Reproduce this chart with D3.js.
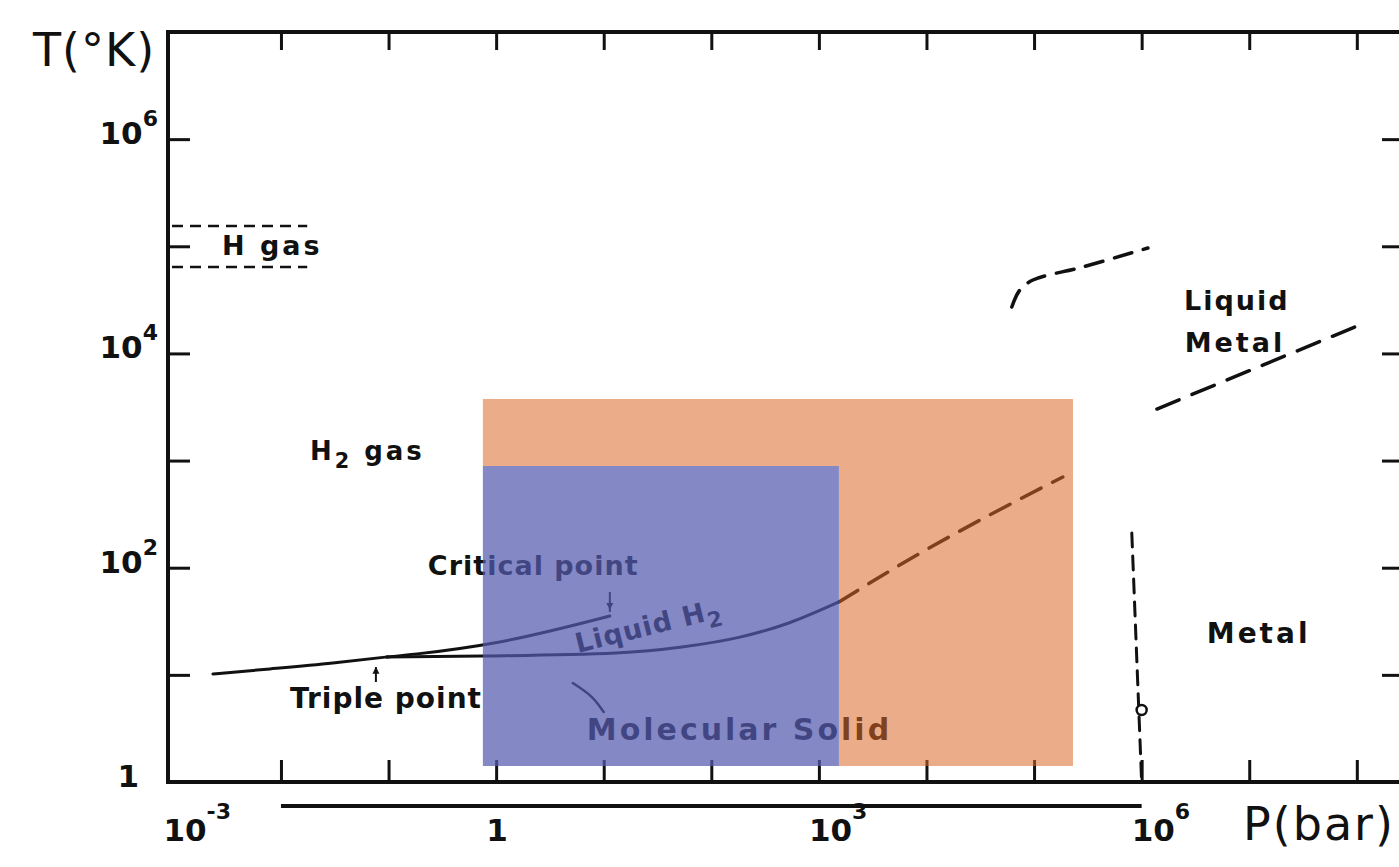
<!DOCTYPE html>
<html>
<head>
<meta charset="utf-8">
<script src="https://cdn.jsdelivr.net/npm/d3@7"></script>
<style>
    body { margin: 0; background: #fff; }
    svg { display: block; font-family: "DejaVu Sans", sans-serif; }
    .lbl { font-weight: bold; fill: #111; }
</style>
</head>
<body>
<div id="chart"></div>
<script>
// axis ticks (decades) and labels
const xTicks = [1e-2, 1e-1, 1, 1e1, 1e2, 1e3, 1e4, 1e5, 1e6, 1e7, 1e8];
const yTicks = [1e1, 1e2, 1e3, 1e4, 1e5, 1e6];
const xTickLabels = [
    {v: 1e-3, base: "10", exp: "-3"},
    {v: 1, base: "1", exp: ""},
    {v: 1e3, base: "10", exp: "3"},
    {v: 1e6, base: "10", exp: "6"}
];
const yTickLabels = [
    {v: 1, base: "1", exp: ""},
    {v: 1e2, base: "10", exp: "2"},
    {v: 1e4, base: "10", exp: "4"},
    {v: 1e6, base: "10", exp: "6"}
];

// phase boundaries, [P (bar), T (K)]
const sublimation = [[0.00233, 10.2], [0.0079, 11.35], [0.0304, 12.9], [0.0966, 14.7]];
const vaporization = [[0.0966, 14.7], [0.1845, 15.7], [1.08, 20.3], [11.4, 35.4]];
const melting = [[0.0966, 14.7], [0.753, 15.0], [12.97, 16.0], [53.3, 18.2], [184.5, 22.5], [526, 30.5], [1535, 47.9]];
const meltingExtrap = [[1535, 47.9], [6295, 113], [185000, 703]];
const upperDashed = [[62100, 27100], [73800, 39100], [97500, 48400], [283800, 64100], [1.143e6, 96400]];
const liquidMetalLine = [[1.387e6, 3027], [9.59e7, 17660]];
const metalBoundary = [[8.1e5, 211], [1e6, 1]];
const metalPoint = [1e6, 4.7];
const hGasBounds = [154500, 64100];
const hGasPmax = 0.01754;
const solidLeader = [[5.16, 8.39], [7.76, 6.21], [10.0, 4.5]];
const criticalArrow = [[11.4, 59.3], [11.4, 38.6]];
const tripleArrow = [[0.0763, 8.58], [0.0763, 11.8]];
const pressureBar = [1e-2, 1e6];

// highlighted ranges [P0, P1, T0, T1]
const orangeBox = [0.753, 2.3e5, 1.41, 3760];
const blueBox = [0.753, 1535, 1.41, 890];

// region labels, anchored at [P, T] (left, baseline)
const labels = [
    {text: "H gas", p: 0.00283, t: 83000, size: 27, spacing: 3},
    {text: "H", sub: "2", after: " gas", p: 0.01858, t: 1012, size: 26, spacing: 3},
    {text: "Critical point", p: 0.232, t: 85.5, size: 27, spacing: 1},
    {text: "Triple point", p: 0.01213, t: 4.91, size: 28, spacing: 1},
    {text: "Liquid H", sub: "2", after: "", p: 5.75, t: 16.0, size: 27, spacing: 1, rotate: -14},
    {text: "Molecular Solid", p: 6.97, t: 2.47, size: 30, spacing: 3},
    {text: "Liquid", p: 2.48e6, t: 25400, size: 27, spacing: 2},
    {text: "Metal", p: 2.51e6, t: 10300, size: 27, spacing: 3},
    {text: "Metal", p: 4.03e6, t: 19.8, size: 28, spacing: 3}
];

const width = 1399, height = 867;

const x = d3.scaleLog().domain([Math.pow(10, -3.05), Math.pow(10, 8.42)]).range([168, 1402]);
const y = d3.scaleLog().domain([1, 1e7]).range([782, 32]);

const svg = d3.select("#chart").append("svg")
    .attr("width", width)
    .attr("height", height);

const ink = "#111";

// frame
const [x0, x1] = x.range();
const [yb, yt] = y.range();
svg.append("rect")
    .attr("x", x0).attr("y", yt)
    .attr("width", x1 - x0).attr("height", yb - yt)
    .attr("fill", "none").attr("stroke", ink).attr("stroke-width", 4);

// ticks pointing inward on all four sides
function ticks(g, axis) {
    g.call(axis);
    g.select(".domain").remove();
    g.selectAll(".tick line").attr("stroke", ink).attr("stroke-width", 3);
}
svg.append("g").attr("transform", "translate(0," + yb + ")")
    .call(ticks, d3.axisBottom(x).tickValues(xTicks).tickSize(-22).tickFormat(""));
svg.append("g").attr("transform", "translate(0," + yt + ")")
    .call(ticks, d3.axisTop(x).tickValues(xTicks).tickSize(-18).tickFormat(""));
svg.append("g").attr("transform", "translate(" + x0 + ",0)")
    .call(ticks, d3.axisLeft(y).tickValues(yTicks).tickSize(-22).tickFormat(""));
svg.append("g").attr("transform", "translate(" + x1 + ",0)")
    .call(ticks, d3.axisRight(y).tickValues(yTicks).tickSize(-20).tickFormat(""));

// tick labels with superscripts
function powerLabel(sel, d, supDy) {
    sel.append("tspan").text(d.base);
    if (d.exp) {
        sel.append("tspan").attr("dy", supDy).attr("font-size", 22).text(d.exp);
    }
}
xTickLabels.forEach(function(d) {
    const t = svg.append("text")
        .attr("class", "lbl")
        .attr("font-size", 31)
        .attr("x", d.exp ? x(d.v) - 10 : x(d.v) + 1)
        .attr("y", 841)
        .attr("text-anchor", d.exp ? "start" : "middle");
    powerLabel(t, d, -22);
});
yTickLabels.forEach(function(d) {
    const t = svg.append("text")
        .attr("class", "lbl")
        .attr("font-size", 31)
        .attr("x", d.exp ? 158 : 139)
        .attr("y", y(d.v) + 5)
        .attr("text-anchor", "end");
    powerLabel(t, d, -18);
});

// axis titles
svg.append("text").attr("x", 33).attr("y", 66)
    .attr("font-size", 46).attr("fill", ink).attr("letter-spacing", 1)
    .text("T(°K)");
svg.append("text").attr("x", 1243).attr("y", 840)
    .attr("font-size", 46).attr("fill", ink).attr("letter-spacing", 2)
    .text("P(bar)");

// pressure bar under the axis
svg.append("line")
    .attr("x1", x(pressureBar[0])).attr("x2", x(pressureBar[1]))
    .attr("y1", 806).attr("y2", 806)
    .attr("stroke", ink).attr("stroke-width", 4);

const line = d3.line()
    .x(function(d) { return x(d[0]); })
    .y(function(d) { return y(d[1]); })
    .curve(d3.curveMonotoneX);

function curve(data, w, dash, gen) {
    return svg.append("path")
        .datum(data)
        .attr("d", gen || line)
        .attr("fill", "none")
        .attr("stroke", ink)
        .attr("stroke-width", w)
        .attr("stroke-linecap", "round")
        .attr("stroke-dasharray", dash || null);
}

curve(sublimation, 3);
curve(vaporization, 3);
curve(melting, 3);
curve(meltingExtrap, 3.5, "22,13");
curve(upperDashed, 3.5, "18,12", d3.line()
    .x(function(d) { return x(d[0]); })
    .y(function(d) { return y(d[1]); })
    .curve(d3.curveCatmullRom));
curve(liquidMetalLine, 3.5, "24,14");
curve(metalBoundary, 3, "14,9", d3.line()
    .x(function(d) { return x(d[0]); })
    .y(function(d) { return y(d[1]); }));
curve(solidLeader, 2.5, null, d3.line()
    .x(function(d) { return x(d[0]); })
    .y(function(d) { return y(d[1]); })
    .curve(d3.curveCatmullRom));

// H gas band
hGasBounds.forEach(function(t) {
    svg.append("line")
        .attr("x1", x0 + 4).attr("x2", x(hGasPmax))
        .attr("y1", y(t)).attr("y2", y(t))
        .attr("stroke", ink).attr("stroke-width", 2.5)
        .attr("stroke-dasharray", "11,7");
});

// small arrows for critical and triple points
function arrow(pts) {
    const a = [x(pts[0][0]), y(pts[0][1])];
    const b = [x(pts[1][0]), y(pts[1][1])];
    svg.append("line")
        .attr("x1", a[0]).attr("y1", a[1]).attr("x2", b[0]).attr("y2", b[1])
        .attr("stroke", ink).attr("stroke-width", 2);
    const dir = b[1] > a[1] ? 1 : -1;
    const hy = a[1] + (b[1] - a[1]) * 0.55;
    svg.append("path")
        .attr("d", "M" + (b[0] - 3.5) + "," + hy + "L" + (b[0] + 3.5) + "," + hy + "L" + b[0] + "," + (hy + dir * 7) + "Z")
        .attr("fill", ink);
}
arrow(criticalArrow);
arrow(tripleArrow);

// metallization marker
svg.append("circle")
    .attr("cx", x(metalPoint[0])).attr("cy", y(metalPoint[1]))
    .attr("r", 5).attr("fill", "#fff")
    .attr("stroke", ink).attr("stroke-width", 2.5);

// region labels
labels.forEach(function(d) {
    const px = x(d.p), py = y(d.t);
    const t = svg.append("text")
        .attr("class", "lbl")
        .attr("font-size", d.size)
        .attr("letter-spacing", d.spacing)
        .attr("x", px).attr("y", py);
    if (d.rotate) t.attr("transform", "rotate(" + d.rotate + "," + px + "," + py + ")");
    t.append("tspan").text(d.text);
    if (d.sub) {
        t.append("tspan").attr("dy", 8).attr("font-size", d.size * 0.8).text(d.sub);
        if (d.after) t.append("tspan").attr("dy", -8).text(d.after);
    }
});

// translucent highlight boxes over the drawing
// orange box minus the blue box, so the blue does not mix with it
function boxPath(b) {
    return "M" + x(b[0]) + "," + y(b[2]) + "H" + x(b[1]) + "V" + y(b[3]) + "H" + x(b[0]) + "Z";
}
svg.append("path")
    .attr("d", boxPath(orangeBox) + boxPath(blueBox))
    .attr("fill-rule", "evenodd")
    .attr("fill", "rgb(218,104,40)")
    .attr("fill-opacity", 0.55);
svg.append("path")
    .attr("d", boxPath(blueBox))
    .attr("fill", "rgb(84,90,175)")
    .attr("fill-opacity", 0.72);
</script>
</body>
</html>
